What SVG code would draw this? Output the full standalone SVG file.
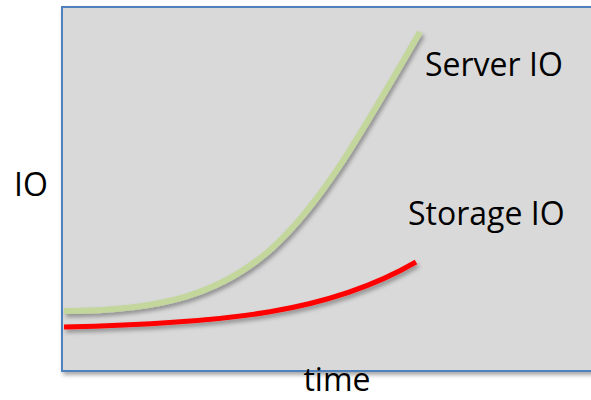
<svg xmlns="http://www.w3.org/2000/svg" width="591" height="400" viewBox="0 0 591 400">
<defs>
<filter id="sh" x="-10%" y="-10%" width="130%" height="130%">
<feDropShadow dx="2" dy="3" stdDeviation="2" flood-color="#000" flood-opacity="0.35"/>
</filter>
<style>
.lbl{font-family:"Open Sans","Liberation Sans",sans-serif;font-size:32px;fill:#000}
</style>
</defs>
<g id="chart">
<rect x="62" y="7" width="540" height="364" fill="#d9d9d9" stroke="#4f81bd" stroke-width="2" filter="url(#sh)"/>
</g>
<g id="connectors" fill="none" stroke-linecap="butt">
<path id="server-curve" d="M64,311 C260,311 300,240 420,32" stroke="#c3d69b" stroke-width="6" filter="url(#sh)"/>
<path id="storage-curve" d="M64,327 C230,323 330,312 416,262" stroke="#ff0000" stroke-width="5" filter="url(#sh)"/>
</g>
<g id="labels">
<text class="lbl" x="425" y="76">Server IO</text>
<text class="lbl" x="408" y="225">Storage IO</text>
<text class="lbl" x="14" y="196">IO</text>
<text class="lbl" x="337" y="391" text-anchor="middle">time</text>
</g>
</svg>
